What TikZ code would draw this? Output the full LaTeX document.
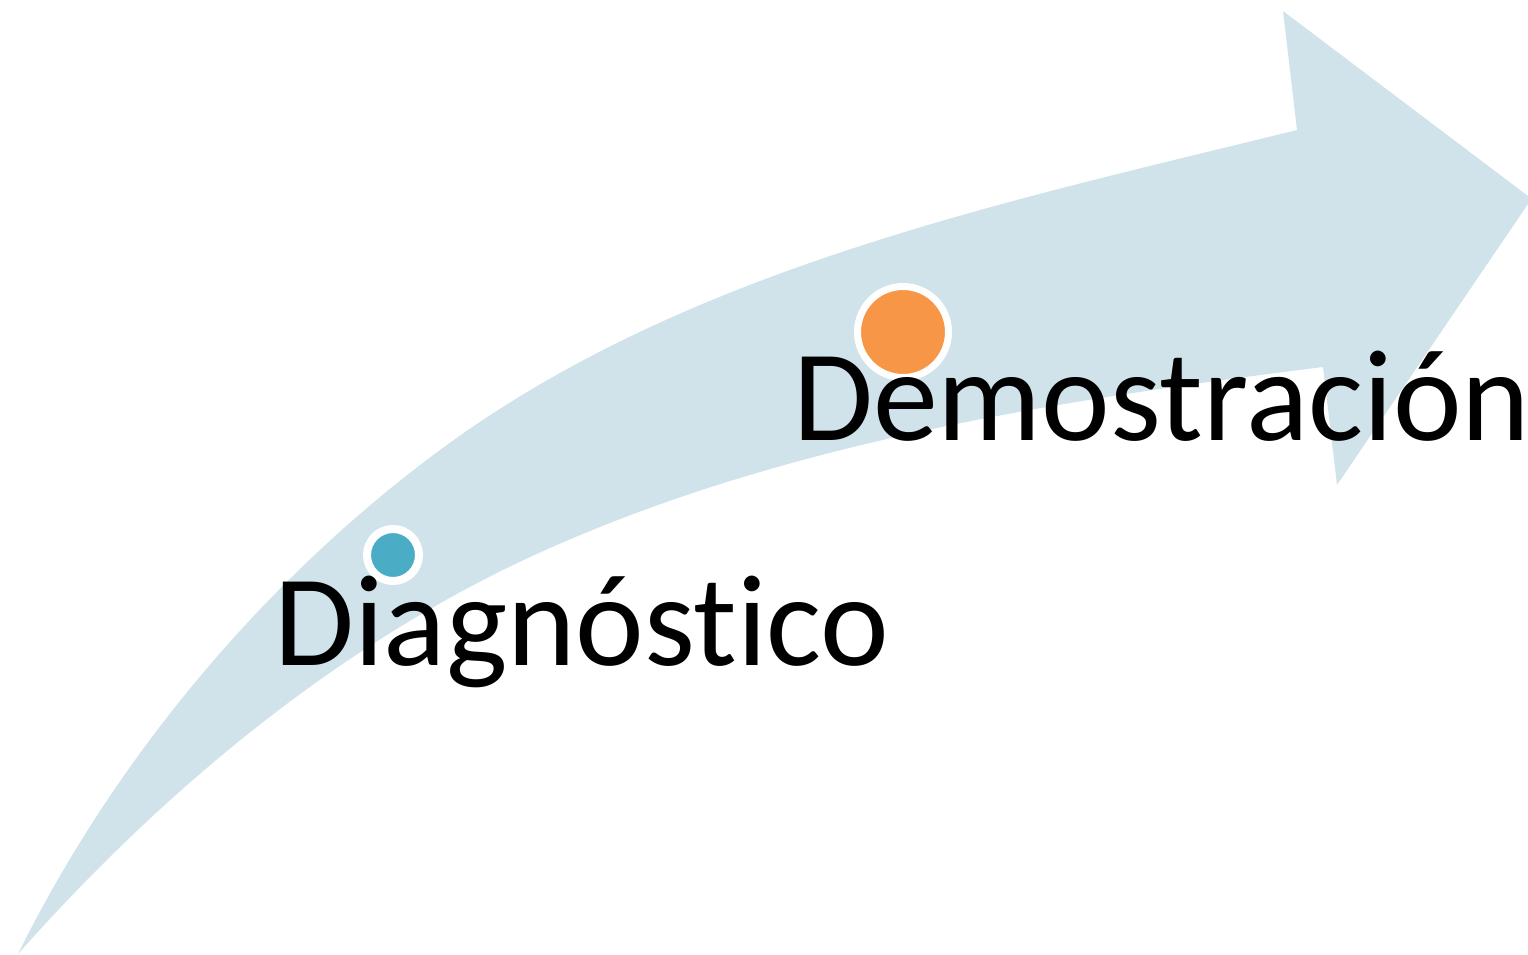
\documentclass[tikz,border=0pt]{standalone}
\usepackage{fontspec}
\setmainfont{Carlito}[Ligatures=NoCommon]
\definecolor{arrowblue}{RGB}{208,227,234}
\definecolor{dotblue}{RGB}{75,172,198}
\definecolor{dotorange}{RGB}{247,150,70}
\tikzset{
  steplabel/.style={anchor=base west, inner sep=0pt, font=\fontsize{130}{150}\selectfont, text=black},
  ringdot/.style={circle, inner sep=0pt, draw=white, fill=#1}
}
\begin{document}
\begin{tikzpicture}[x=1pt,y=-1pt]
\useasboundingbox (0,0) rectangle (1528,954);
\fill[arrowblue] (18,954)
  .. controls (115,758) and (264,580) .. (440,450)
  .. controls (685,269) and (1001,203) .. (1297,130)
  -- (1283,11) -- (1528,196) -- (1528,204) -- (1337,485) -- (1323,367)
  .. controls (1060,400) and (792,441) .. (550,548)
  .. controls (346,638) and (166,787) .. (18,954)
  -- cycle;
\node[ringdot=dotblue, minimum size=52pt, line width=8pt] (d1) at (393,555) {};
\node[ringdot=dotorange, minimum size=91pt, line width=7pt] (d2) at (903,332) {};
\node[steplabel] (t1) at (274,665) {Diagnóstico};
\node[steplabel] (t2) at (793,440) {Demostración};
\end{tikzpicture}
\end{document}
